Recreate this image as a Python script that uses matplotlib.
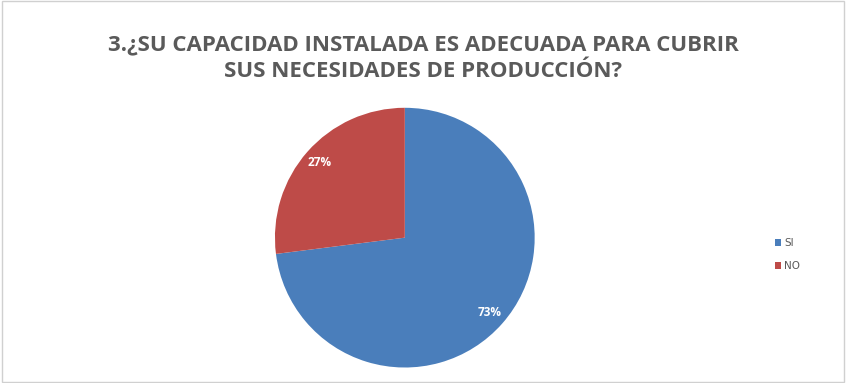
import matplotlib.pyplot as plt
from matplotlib.patches import Rectangle

title = "3.¿SU CAPACIDAD INSTALADA ES ADECUADA PARA CUBRIR\nSUS NECESIDADES DE PRODUCCIÓN?"
labels = ["SI", "NO"]
values = [73, 27]
colors = ["#4a7ebb", "#be4b48"]

fig = plt.figure(figsize=(8.46, 3.83), dpi=100)
fig.patch.set_facecolor("white")

# thin frame around the chart area
fig.patches.append(Rectangle((0.002, 0.003), 0.996, 0.994, transform=fig.transFigure,
                             fill=False, edgecolor="#d0d0d0", linewidth=1))

fig.text(0.5, 0.848, title, ha="center", va="center", fontsize=16,
         fontweight="bold", color="#5a5a5a", family="Open Sans", linespacing=1.35)

ax = fig.add_axes([0.325, 0.040, 0.307, 0.679])
wedges, texts, autotexts = ax.pie(values, colors=colors, startangle=90, counterclock=False,
                                  autopct="%d%%", pctdistance=0.87,
                                  textprops=dict(color="white", fontsize=8.5, fontweight="bold",
                                                 family="Open Sans"))
ax.set_xlim(-1, 1)
ax.set_ylim(-1, 1)
ax.set_aspect("equal")

leg = fig.legend(wedges, labels, loc="center left", bbox_to_anchor=(0.905, 0.335),
                 frameon=False, fontsize=7.5, handlelength=0.6, handleheight=0.6,
                 handletextpad=0.3, labelspacing=1.2, labelcolor="#595959")

fig.savefig("out.png", dpi=100)
